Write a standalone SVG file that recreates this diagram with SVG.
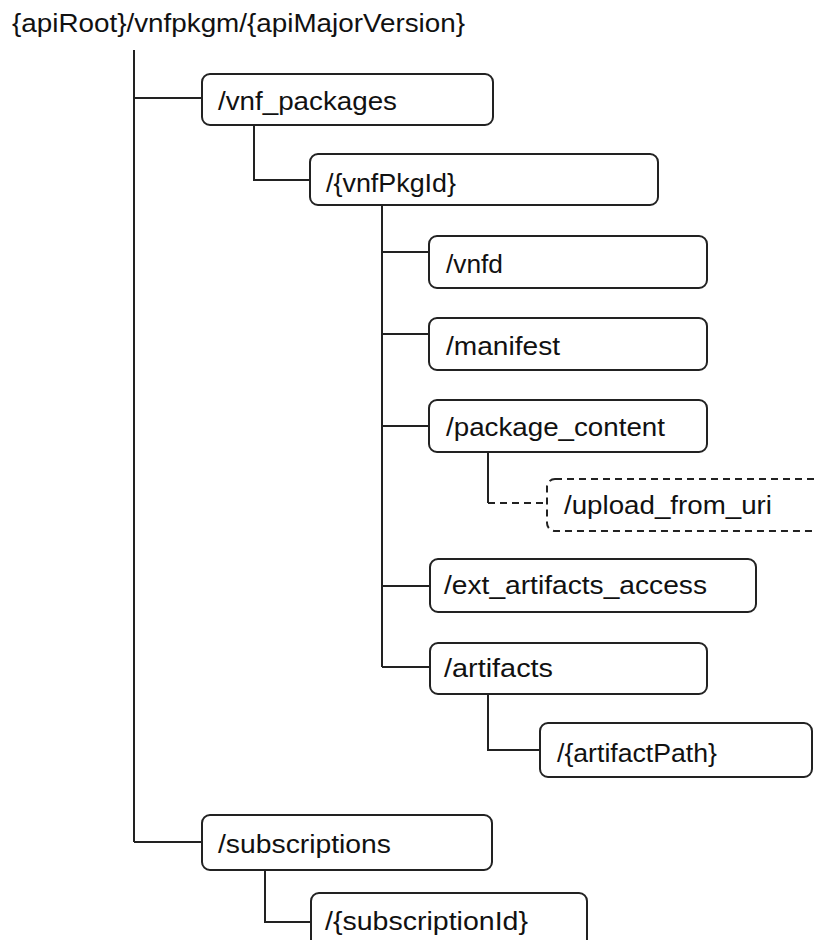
<svg xmlns="http://www.w3.org/2000/svg" width="814" height="940" viewBox="0 0 814 940">
<style>
text{font-family:"Liberation Sans",Arial,sans-serif;font-size:25px;fill:#111}
.box{fill:#fff;stroke:#222;stroke-width:2}
.dash{stroke-dasharray:7 5}
.c{fill:none;stroke:#222;stroke-width:2}
</style>
<rect width="814" height="940" fill="#fff"/>
<g id="connectors">
<path class="c" d="M134 50V842M134 98H202M134 842H202"/>
<path class="c" d="M254 125V180H310"/>
<path class="c" d="M382 205V667M382 252H429M382 334H429M382 426H429M382 586H430M382 667H430"/>
<path class="c" d="M488 452V503"/>
<path class="c dash" d="M488 503H547"/>
<path class="c" d="M488 694V750H540"/>
<path class="c" d="M265 870V922H311"/>
</g>
<g id="root"><text x="12" y="32" textLength="453" lengthAdjust="spacingAndGlyphs">{apiRoot}/vnfpkgm/{apiMajorVersion}</text></g>
<g id="vnf_packages"><rect class="box" x="202" y="74" width="291" height="51" rx="8"/><text x="218" y="110" textLength="179" lengthAdjust="spacingAndGlyphs">/vnf_packages</text></g>
<g id="vnfPkgId"><rect class="box" x="310" y="154" width="348" height="51" rx="8"/><text x="326" y="192" textLength="130" lengthAdjust="spacingAndGlyphs">/{vnfPkgId}</text></g>
<g id="vnfd"><rect class="box" x="429" y="236" width="278" height="52" rx="8"/><text x="446" y="273" textLength="57" lengthAdjust="spacingAndGlyphs">/vnfd</text></g>
<g id="manifest"><rect class="box" x="429" y="318" width="278" height="52" rx="8"/><text x="446" y="355" textLength="114" lengthAdjust="spacingAndGlyphs">/manifest</text></g>
<g id="package_content"><rect class="box" x="429" y="400" width="278" height="52" rx="8"/><text x="446" y="436" textLength="219" lengthAdjust="spacingAndGlyphs">/package_content</text></g>
<g id="upload_from_uri"><rect class="box dash" x="547" y="479" width="300" height="52" rx="8"/><text x="564" y="514" textLength="208" lengthAdjust="spacingAndGlyphs">/upload_from_uri</text></g>
<g id="ext_artifacts_access"><rect class="box" x="430" y="559" width="326" height="53" rx="8"/><text x="444" y="594" textLength="263" lengthAdjust="spacingAndGlyphs">/ext_artifacts_access</text></g>
<g id="artifacts"><rect class="box" x="430" y="643" width="277" height="51" rx="8"/><text x="444" y="677" textLength="109" lengthAdjust="spacingAndGlyphs">/artifacts</text></g>
<g id="artifactPath"><rect class="box" x="540" y="723" width="272" height="54" rx="8"/><text x="557" y="762" textLength="160" lengthAdjust="spacingAndGlyphs">/{artifactPath}</text></g>
<g id="subscriptions"><rect class="box" x="202" y="815" width="290" height="55" rx="8"/><text x="218" y="853" textLength="173" lengthAdjust="spacingAndGlyphs">/subscriptions</text></g>
<g id="subscriptionId"><rect class="box" x="311" y="893" width="276" height="60" rx="8"/><text x="325" y="930" textLength="203" lengthAdjust="spacingAndGlyphs">/{subscriptionId}</text></g>
</svg>
